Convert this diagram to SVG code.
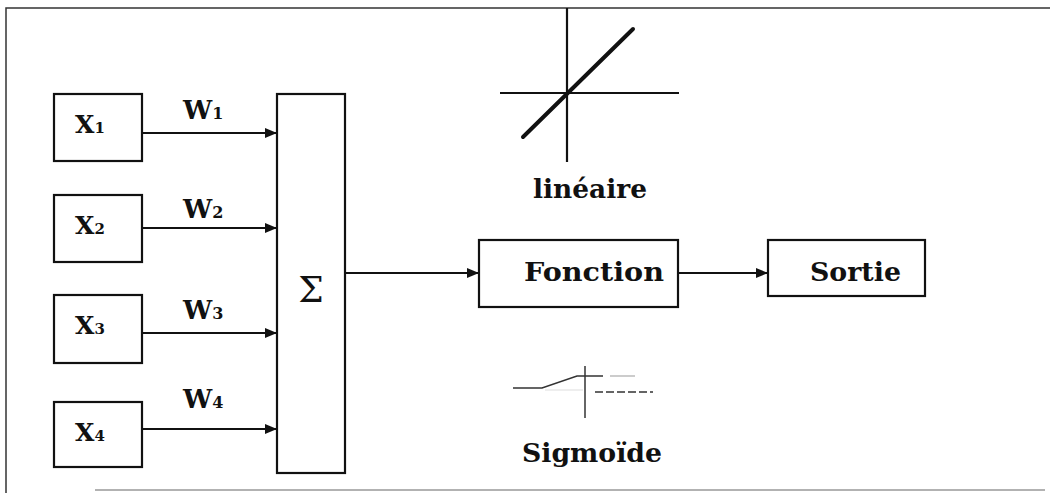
<svg xmlns="http://www.w3.org/2000/svg" width="1050" height="493" viewBox="0 0 1050 493">
<style>
.box{fill:#fff;stroke:#111;stroke-width:2.2}
.ln{stroke:#111;stroke-width:2.2;fill:none}
.t{font-family:"DejaVu Serif","Liberation Serif",serif;font-weight:bold;fill:#111}
.frame{stroke:#333;stroke-width:1.5;fill:none}
</style>
<defs>
<marker id="ah" markerWidth="12" markerHeight="10" refX="12" refY="5" orient="auto" markerUnits="userSpaceOnUse">
<path d="M0,0 L12,5 L0,10 Z" fill="#111"/>
</marker>
</defs>
<rect width="1050" height="493" fill="#fff"/>
<g id="frame">
<path class="frame" d="M1050,8 L6,8 L6,493"/>
<line x1="95" y1="490" x2="1045" y2="490" stroke="#999" stroke-width="1.5"/>
</g>
<g id="connectors">
<line class="ln" x1="142" y1="133" x2="277" y2="133" marker-end="url(#ah)"/>
<line class="ln" x1="142" y1="228" x2="277" y2="228" marker-end="url(#ah)"/>
<line class="ln" x1="142" y1="333" x2="277" y2="333" marker-end="url(#ah)"/>
<line class="ln" x1="142" y1="429" x2="277" y2="429" marker-end="url(#ah)"/>
<line class="ln" x1="345" y1="273" x2="479" y2="273" marker-end="url(#ah)"/>
<line class="ln" x1="678" y1="273" x2="768" y2="273" marker-end="url(#ah)"/>
<text class="t" x="183" y="119" font-size="26">W<tspan font-size="16">1</tspan></text>
<text class="t" x="183" y="218" font-size="26">W<tspan font-size="16">2</tspan></text>
<text class="t" x="183" y="319" font-size="26">W<tspan font-size="16">3</tspan></text>
<text class="t" x="183" y="408" font-size="26">W<tspan font-size="16">4</tspan></text>
</g>
<g id="x1"><rect class="box" x="54" y="94" width="88" height="67"/><text class="t" x="75" y="133" font-size="25">X<tspan font-size="15">1</tspan></text></g>
<g id="x2"><rect class="box" x="54" y="195" width="88" height="67"/><text class="t" x="75" y="234" font-size="25">X<tspan font-size="15">2</tspan></text></g>
<g id="x3"><rect class="box" x="54" y="295" width="88" height="68"/><text class="t" x="75" y="334" font-size="25">X<tspan font-size="15">3</tspan></text></g>
<g id="x4"><rect class="box" x="54" y="402" width="88" height="65"/><text class="t" x="75" y="441" font-size="25">X<tspan font-size="15">4</tspan></text></g>
<g id="sum"><rect class="box" x="277" y="94" width="68" height="379"/><text x="311" y="302" font-size="36" text-anchor="middle" font-family="DejaVu Serif,serif" fill="#111">Σ</text></g>
<g id="fonction"><rect class="box" x="479" y="240" width="199" height="67"/><text class="t" x="524" y="281" font-size="26" textLength="140" lengthAdjust="spacingAndGlyphs">Fonction</text></g>
<g id="sortie"><rect class="box" x="768" y="240" width="157" height="56"/><text class="t" x="810" y="281" font-size="26" textLength="91" lengthAdjust="spacingAndGlyphs">Sortie</text></g>
<g id="lineaire">
<line class="ln" x1="567" y1="8" x2="567" y2="162"/>
<line class="ln" x1="500" y1="93" x2="679" y2="93"/>
<line x1="523" y1="137" x2="633" y2="29" stroke="#111" stroke-width="4" stroke-linecap="round"/>
<text class="t" x="533" y="198" font-size="26" textLength="114" lengthAdjust="spacingAndGlyphs">linéaire</text>
</g>
<g id="sigmoide">
<line x1="585" y1="366" x2="585" y2="418" stroke="#333" stroke-width="1.5"/>
<path d="M513,388 L542,388 L577,376 L603,376" stroke="#333" stroke-width="1.5" fill="none"/>
<line x1="610" y1="376" x2="635" y2="376" stroke="#bbb" stroke-width="1.5"/>
<line x1="595" y1="392" x2="653" y2="392" stroke="#333" stroke-width="1.5" stroke-dasharray="8,3"/>
<line x1="545" y1="390" x2="583" y2="390" stroke="#ddd" stroke-width="1"/>
<text class="t" x="522" y="462" font-size="26" textLength="140" lengthAdjust="spacingAndGlyphs">Sigmoïde</text>
</g>
</svg>
